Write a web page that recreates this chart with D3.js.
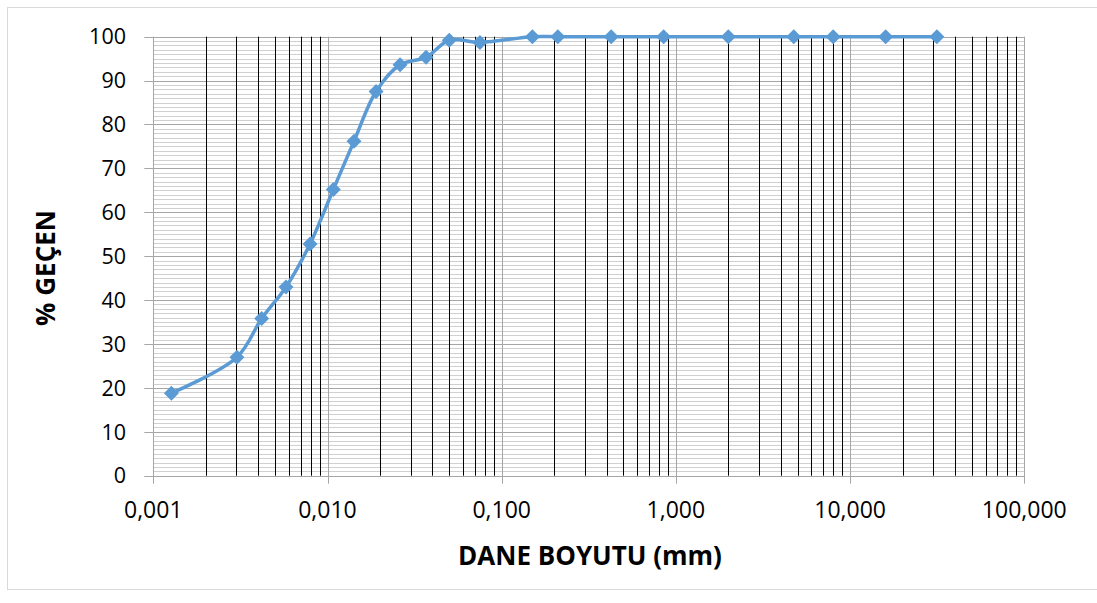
<!DOCTYPE html>
<html><head><meta charset="utf-8">
<script src="https://cdn.jsdelivr.net/npm/d3@7"></script>
<style>body{margin:0;background:#fff;} text{font-family:"Open Sans",sans-serif;}</style>
</head><body>
<svg id="c" width="1097" height="603"></svg>
<script>
const grainSize = [0.00127,0.00302,0.00419,0.00578,0.00794,0.0108,0.0142,0.019,0.0261,0.0368,0.05,0.075,0.15,0.21,0.425,0.85,2,4.75,8,16,31.5];
const passing   = [18.8,27.0,35.8,43.0,52.8,65.2,76.2,87.5,93.6,95.3,99.2,98.7,100,100,100,100,100,100,100,100,100];
const xTickValues = [0.001,0.01,0.1,1,10,100];
const xTickLabels = ["0,001","0,010","0,100","1,000","10,000","100,000"];
const yTickValues = [0,10,20,30,40,50,60,70,80,90,100];
const xTitle = "DANE BOYUTU (mm)";
const yTitle = "% GEÇEN";

const svg = d3.select("#c");
svg.append("rect").attr("x",7.5).attr("y",7.5).attr("width",1095).attr("height",582)
  .attr("fill","#fff").attr("stroke","#d9d9d9");

const x = d3.scaleLog().domain([0.001,100]).range([153.3,1024.3]);
const y = d3.scaleLinear().domain([0,100]).range([475.7,36.7]);

const g = svg.append("g");
g.selectAll(".hmin").data(d3.range(1,100).filter(v=>v%10!==0)).enter().append("line")
  .attr("x1",x(0.001)).attr("x2",x(100)).attr("y1",d=>Math.round(y(d))+0.5).attr("y2",d=>Math.round(y(d))+0.5)
  .attr("stroke","#d0d0d0").attr("stroke-width",1);
g.selectAll(".hmaj").data(yTickValues).enter().append("line")
  .attr("x1",x(0.001)-9).attr("x2",x(100)).attr("y1",d=>Math.round(y(d))+0.5).attr("y2",d=>Math.round(y(d))+0.5)
  .attr("stroke","#a6a6a6").attr("stroke-width",1);
const minorX = [];
for (let e=-3;e<2;e++) for (let k=2;k<10;k++) minorX.push(k*Math.pow(10,e));
g.selectAll(".vmin").data(minorX).enter().append("line")
  .attr("x1",d=>Math.round(x(d))+0.5).attr("x2",d=>Math.round(x(d))+0.5).attr("y1",y(0)).attr("y2",y(100))
  .attr("stroke","#000").attr("stroke-width",1);
g.selectAll(".vmaj").data(xTickValues).enter().append("line")
  .attr("x1",d=>Math.round(x(d))+0.5).attr("x2",d=>Math.round(x(d))+0.5).attr("y1",y(0)+8).attr("y2",y(100))
  .attr("stroke","#a6a6a6").attr("stroke-width",1);

g.selectAll(".yl").data(yTickValues).enter().append("text")
  .attr("x",126).attr("y",d=>y(d)).attr("dy","0.36em").attr("text-anchor","end")
  .attr("font-size",21.5).attr("fill","#000").text(d=>d);
g.selectAll(".xl").data(xTickValues).enter().append("text")
  .attr("x",d=>x(d)).attr("y",510).attr("dy","0.36em").attr("text-anchor","middle")
  .attr("font-size",23).attr("fill","#000").text((d,i)=>xTickLabels[i]);

svg.append("text").attr("x",590).attr("y",565).attr("text-anchor","middle")
  .attr("font-size",26).attr("font-weight","bold").text(xTitle);
svg.append("text").attr("transform","translate(55,268) rotate(-90)").attr("text-anchor","middle")
  .attr("font-size",26).attr("font-weight","bold").text(yTitle);

const pts = grainSize.map((d,i)=>[x(d),y(passing[i])]);
svg.append("path").attr("d",d3.line().curve(d3.curveCatmullRom.alpha(0.5))(pts))
  .attr("fill","none").attr("stroke","#5b9bd5").attr("stroke-width",3.5);
svg.selectAll(".m").data(pts).enter().append("path")
  .attr("transform",d=>`translate(${d[0]},${d[1]})`)
  .attr("d","M0,-7.5L7.5,0L0,7.5L-7.5,0Z").attr("fill","#5b9bd5");
</script>
</body></html>
